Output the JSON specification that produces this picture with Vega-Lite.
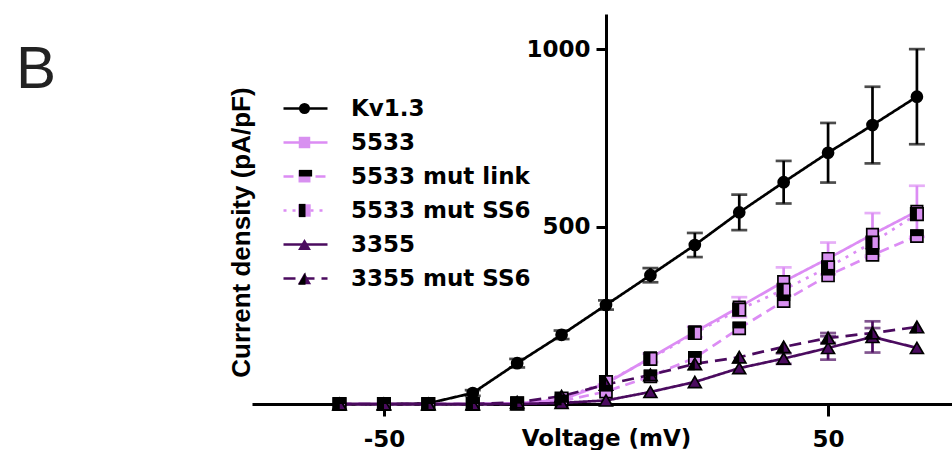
{
  "$schema": "https://vega.github.io/schema/vega-lite/v6.json",
  "autosize": {"type": "none"},
  "padding": {"left": 252, "top": 14, "right": 0, "bottom": 46},
  "width": 700,
  "height": 390,
  "background": "white",
  "title": {"text": "B", "anchor": "start", "frame": "group", "font": "Liberation Sans", "fontSize": 60, "fontWeight": "normal", "color": "#222222", "offset": 0, "dx": -236, "dy": 134, "baseline": "alphabetic"},
  "config": {
    "view": {"stroke": null},
    "axis": {"domainColor": "black", "domainWidth": 3, "tickColor": "black", "tickWidth": 3, "labelFont": "DejaVu Sans", "labelFontWeight": "bold", "labelFontSize": 23, "labelColor": "black", "titleFont": "DejaVu Sans", "titleFontWeight": "bold", "titleFontSize": 23, "titleColor": "black", "grid": false, "labelFlush": false, "labelOverlap": false}
  },
  "datasets": {
    "pts": [
      {"s": "Kv1.3", "v": -60, "y": 0}, {"s": "Kv1.3", "v": -50, "y": 0}, {"s": "Kv1.3", "v": -40, "y": 2}, {"s": "Kv1.3", "v": -30, "y": 31}, {"s": "Kv1.3", "v": -20, "y": 115}, {"s": "Kv1.3", "v": -10, "y": 195}, {"s": "Kv1.3", "v": 0, "y": 279}, {"s": "Kv1.3", "v": 10, "y": 363}, {"s": "Kv1.3", "v": 20, "y": 448}, {"s": "Kv1.3", "v": 30, "y": 540}, {"s": "Kv1.3", "v": 40, "y": 625}, {"s": "Kv1.3", "v": 50, "y": 708}, {"s": "Kv1.3", "v": 60, "y": 786}, {"s": "Kv1.3", "v": 70, "y": 866},
      {"s": "5533", "v": -60, "y": 0}, {"s": "5533", "v": -50, "y": 0}, {"s": "5533", "v": -40, "y": 0}, {"s": "5533", "v": -30, "y": 0}, {"s": "5533", "v": -20, "y": 2}, {"s": "5533", "v": -10, "y": 12}, {"s": "5533", "v": 0, "y": 58}, {"s": "5533", "v": 10, "y": 130}, {"s": "5533", "v": 20, "y": 203}, {"s": "5533", "v": 30, "y": 273}, {"s": "5533", "v": 40, "y": 345}, {"s": "5533", "v": 50, "y": 410}, {"s": "5533", "v": 60, "y": 478}, {"s": "5533", "v": 70, "y": 543},
      {"s": "5533 mut link", "v": -60, "y": 0}, {"s": "5533 mut link", "v": -50, "y": 0}, {"s": "5533 mut link", "v": -40, "y": 0}, {"s": "5533 mut link", "v": -30, "y": 0}, {"s": "5533 mut link", "v": -20, "y": 1}, {"s": "5533 mut link", "v": -10, "y": 8}, {"s": "5533 mut link", "v": 0, "y": 35}, {"s": "5533 mut link", "v": 10, "y": 78}, {"s": "5533 mut link", "v": 20, "y": 130}, {"s": "5533 mut link", "v": 30, "y": 213}, {"s": "5533 mut link", "v": 40, "y": 290}, {"s": "5533 mut link", "v": 50, "y": 362}, {"s": "5533 mut link", "v": 60, "y": 420}, {"s": "5533 mut link", "v": 70, "y": 473},
      {"s": "5533 mut SS6", "v": -60, "y": 0}, {"s": "5533 mut SS6", "v": -50, "y": 0}, {"s": "5533 mut SS6", "v": -40, "y": 0}, {"s": "5533 mut SS6", "v": -30, "y": 0}, {"s": "5533 mut SS6", "v": -20, "y": 2}, {"s": "5533 mut SS6", "v": -10, "y": 15}, {"s": "5533 mut SS6", "v": 0, "y": 62}, {"s": "5533 mut SS6", "v": 10, "y": 127}, {"s": "5533 mut SS6", "v": 20, "y": 200}, {"s": "5533 mut SS6", "v": 30, "y": 266}, {"s": "5533 mut SS6", "v": 40, "y": 322}, {"s": "5533 mut SS6", "v": 50, "y": 385}, {"s": "5533 mut SS6", "v": 60, "y": 455}, {"s": "5533 mut SS6", "v": 70, "y": 535},
      {"s": "3355", "v": -60, "y": 0}, {"s": "3355", "v": -50, "y": 0}, {"s": "3355", "v": -40, "y": 0}, {"s": "3355", "v": -30, "y": 0}, {"s": "3355", "v": -20, "y": 0}, {"s": "3355", "v": -10, "y": 3}, {"s": "3355", "v": 0, "y": 10}, {"s": "3355", "v": 10, "y": 34}, {"s": "3355", "v": 20, "y": 62}, {"s": "3355", "v": 30, "y": 101}, {"s": "3355", "v": 40, "y": 128}, {"s": "3355", "v": 50, "y": 158}, {"s": "3355", "v": 60, "y": 189}, {"s": "3355", "v": 70, "y": 158},
      {"s": "3355 mut SS6", "v": -60, "y": 0}, {"s": "3355 mut SS6", "v": -50, "y": 0}, {"s": "3355 mut SS6", "v": -40, "y": 0}, {"s": "3355 mut SS6", "v": -30, "y": 0}, {"s": "3355 mut SS6", "v": -20, "y": 5}, {"s": "3355 mut SS6", "v": -10, "y": 22}, {"s": "3355 mut SS6", "v": 0, "y": 55}, {"s": "3355 mut SS6", "v": 10, "y": 82}, {"s": "3355 mut SS6", "v": 20, "y": 113}, {"s": "3355 mut SS6", "v": 30, "y": 132}, {"s": "3355 mut SS6", "v": 40, "y": 161}, {"s": "3355 mut SS6", "v": 50, "y": 186}, {"s": "3355 mut SS6", "v": 60, "y": 200}, {"s": "3355 mut SS6", "v": 70, "y": 217}
    ],
    "err": [
      {"s": "Kv1.3", "v": -30, "y": 31, "e": 8}, {"s": "Kv1.3", "v": -20, "y": 115, "e": 12}, {"s": "Kv1.3", "v": -10, "y": 195, "e": 12}, {"s": "Kv1.3", "v": 0, "y": 279, "e": 13}, {"s": "Kv1.3", "v": 10, "y": 363, "e": 20}, {"s": "Kv1.3", "v": 20, "y": 448, "e": 34}, {"s": "Kv1.3", "v": 30, "y": 540, "e": 50}, {"s": "Kv1.3", "v": 40, "y": 625, "e": 60}, {"s": "Kv1.3", "v": 50, "y": 708, "e": 84}, {"s": "Kv1.3", "v": 60, "y": 786, "e": 108}, {"s": "Kv1.3", "v": 70, "y": 866, "e": 134},
      {"s": "5533", "v": 10, "y": 130, "e": 12}, {"s": "5533", "v": 20, "y": 203, "e": 15}, {"s": "5533", "v": 30, "y": 273, "e": 28}, {"s": "5533", "v": 40, "y": 345, "e": 40}, {"s": "5533", "v": 50, "y": 410, "e": 45}, {"s": "5533", "v": 60, "y": 478, "e": 60}, {"s": "5533", "v": 70, "y": 543, "e": 72},
      {"s": "3355", "v": 40, "y": 128, "e": 15}, {"s": "3355", "v": 50, "y": 158, "e": 33}, {"s": "3355", "v": 60, "y": 189, "e": 44},
      {"s": "3355 mut SS6", "v": 50, "y": 186, "e": 14}, {"s": "3355 mut SS6", "v": 60, "y": 200, "e": 14}
    ]
  },
  "encoding": {
    "x": {"field": "v", "type": "quantitative", "scale": {"domain": [-79.7, 77.9], "nice": false, "zero": false},
          "axis": {"values": [-50, 50], "tickSize": 12, "labelExpr": "datum.value < 0 ? '-' + abs(datum.value) : '' + datum.value", "labelBaseline": "alphabetic", "labelPadding": 30, "title": "Voltage (mV)", "titleBaseline": "alphabetic", "titleAlign": "center", "titleX": 354, "titleY": 41}},
    "y": {"field": "y", "type": "quantitative", "scale": {"domain": [0, 1099], "nice": false},
          "axis": {"values": [500, 1000], "format": "d", "offset": -354, "tickSize": 10, "labelPadding": 6, "title": "Current density (pA/pF)", "titleFont": "Liberation Sans", "titleFontSize": 26, "titleAngle": -90, "titleBaseline": "alphabetic", "titleAlign": "center", "titleX": -357, "titleY": 218}}
  },
  "layer": [
    {
      "data": {"name": "pts"},
      "mark": {"type": "line", "strokeWidth": 2.7},
      "encoding": {
        "stroke": {"field": "s", "type": "nominal",
                   "scale": {"domain": ["Kv1.3", "5533", "5533 mut link", "5533 mut SS6", "3355", "3355 mut SS6"], "range": ["#000000", "#dc8cf4", "#dc8cf4", "#dc8cf4", "#4b0b5f", "#4b0b5f"]},
                   "legend": {"orient": "none", "legendX": 42, "legendY": 83, "title": null, "symbolType": "M-4,0H4", "symbolSize": 121, "symbolStrokeWidth": 2.7, "labelFont": "DejaVu Sans", "labelFontSize": 23, "labelFontWeight": "bold", "labelColor": "black", "labelOffset": 34, "rowPadding": 10, "padding": 0, "labelLimit": 400}},
        "strokeDash": {"field": "s", "type": "nominal",
                   "scale": {"domain": ["Kv1.3", "5533", "5533 mut link", "5533 mut SS6", "3355", "3355 mut SS6"], "range": [[1, 0], [1, 0], [10, 6], [3, 6], [1, 0], [12, 7]]},
                   "legend": {"orient": "none", "legendX": 42, "legendY": 83, "title": null, "symbolType": "M-4,0H4", "symbolSize": 121, "symbolStrokeWidth": 2.7, "labelFont": "DejaVu Sans", "labelFontSize": 23, "labelFontWeight": "bold", "labelColor": "black", "labelOffset": 34, "rowPadding": 10, "padding": 0, "labelLimit": 400}}
      }
    },
    {
      "data": {"name": "err"},
      "mark": {"type": "errorbar", "ticks": true, "size": 16, "thickness": 2.7},
      "encoding": {
        "yError": {"field": "e"},
        "color": {"field": "s", "type": "nominal", "scale": {"domain": ["Kv1.3", "5533", "3355", "3355 mut SS6"], "range": ["#000000", "#dc8cf4", "#4b0b5f", "#4b0b5f"]}, "legend": null}
      }
    },
    {
      "data": {"name": "pts"},
      "mark": {"type": "point", "filled": true, "opacity": 1, "stroke": "black", "strokeWidth": 1.7},
      "encoding": {
        "shape": {"field": "s", "type": "nominal",
                  "scale": {"domain": ["Kv1.3", "5533", "5533 mut link", "5533 mut SS6", "3355", "3355 mut SS6"], "range": ["circle", "square", "square", "square", "triangle-up", "triangle-up"]},
                  "legend": {"orient": "none", "legendX": 41, "legendY": 83, "title": null, "symbolStrokeColor": "black", "symbolStrokeWidth": 1.7, "labelFont": "DejaVu Sans", "labelFontSize": 23, "labelFontWeight": "bold", "labelColor": "transparent", "labelExpr": "' '", "labelOffset": 34, "rowPadding": 10, "padding": 0}},
        "fill": {"field": "s", "type": "nominal",
                 "scale": {"domain": ["Kv1.3", "5533", "5533 mut link", "5533 mut SS6", "3355", "3355 mut SS6"], "range": ["#000000", "#d890f0", "#d890f0", "#d890f0", "#4b0b5f", "#4b0b5f"]},
                 "legend": {"orient": "none", "legendX": 41, "legendY": 83, "title": null, "symbolStrokeColor": "black", "symbolStrokeWidth": 1.7, "labelFont": "DejaVu Sans", "labelFontSize": 23, "labelFontWeight": "bold", "labelColor": "transparent", "labelExpr": "' '", "labelOffset": 34, "rowPadding": 10, "padding": 0}},
        "size": {"field": "s", "type": "nominal",
                 "scale": {"domain": ["Kv1.3", "5533", "5533 mut link", "5533 mut SS6", "3355", "3355 mut SS6"], "range": [121, 176, 176, 176, 210, 210]},
                 "legend": {"orient": "none", "legendX": 41, "legendY": 83, "title": null, "symbolStrokeColor": "black", "symbolStrokeWidth": 1.7, "labelFont": "DejaVu Sans", "labelFontSize": 23, "labelFontWeight": "bold", "labelColor": "transparent", "labelExpr": "' '", "labelOffset": 34, "rowPadding": 10, "padding": 0}}
      }
    },
    {
      "data": {"name": "pts"},
      "mark": {"type": "point", "filled": true, "opacity": 1, "fill": "black", "strokeWidth": 0, "size": 176},
      "encoding": {
        "shape": {"field": "s", "type": "nominal",
                  "scale": {"domain": ["Kv1.3", "5533", "5533 mut link", "5533 mut SS6", "3355", "3355 mut SS6"], "range": ["M0,0", "M0,0", "M-1,-1H1V0H-1Z", "M-1,-1H0V1H-1Z", "M0,0", "M0,-0.946L-1.092,0.946L0,0.946Z"]},
                  "legend": {"orient": "none", "legendX": 42, "legendY": 83, "title": null, "symbolFillColor": "black", "symbolStrokeWidth": 0, "symbolSize": 176, "labelFont": "DejaVu Sans", "labelFontSize": 23, "labelFontWeight": "bold", "labelColor": "transparent", "labelExpr": "' '", "labelOffset": 34, "rowPadding": 10, "padding": 0}}
      }
    }
  ],
  "resolve": {
    "scale": {"shape": "independent", "fill": "independent", "size": "independent", "stroke": "independent", "strokeDash": "independent", "color": "independent"},
    "legend": {"shape": "independent", "fill": "independent", "size": "independent", "stroke": "independent", "strokeDash": "independent", "color": "independent"}
  }
}
